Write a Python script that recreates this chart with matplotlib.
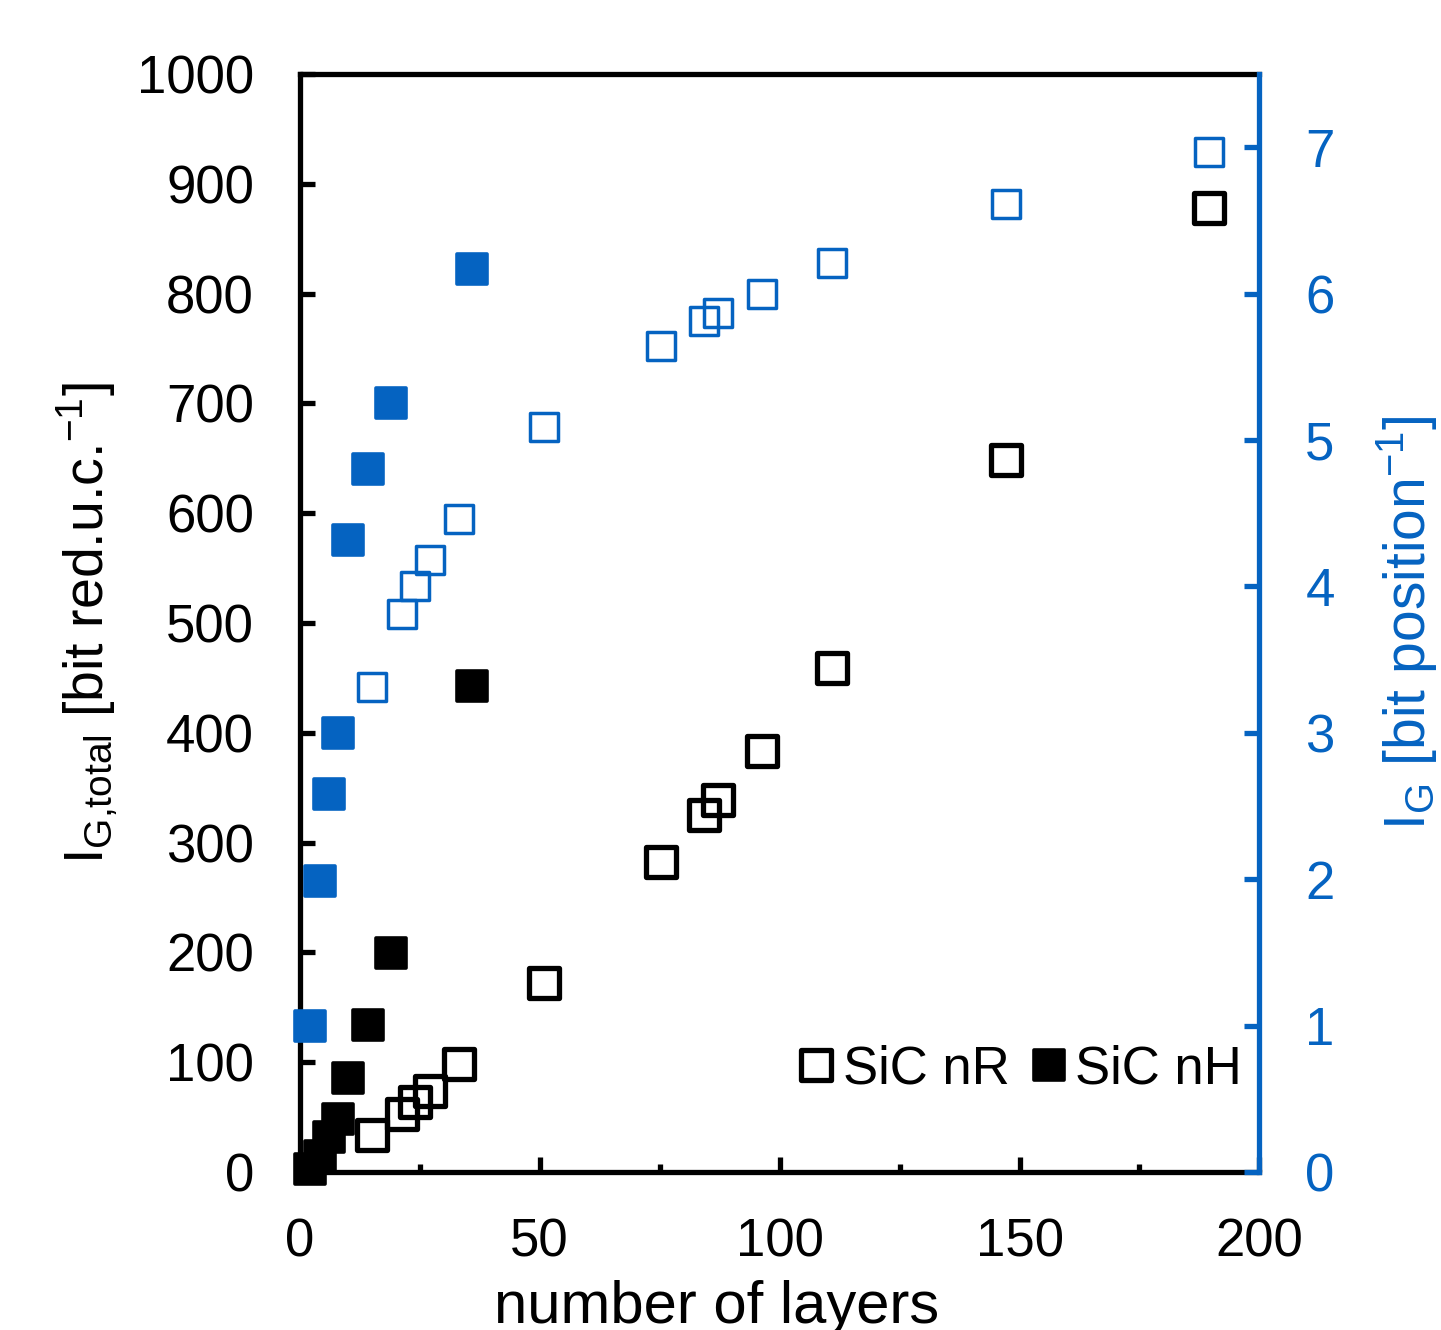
import matplotlib
matplotlib.use('Agg')
import matplotlib.pyplot as plt
from matplotlib.markers import MarkerStyle
from matplotlib.ticker import MultipleLocator

plt.rcParams['font.family'] = ['Liberation Sans', 'DejaVu Sans']
plt.rcParams['mathtext.fontset'] = 'custom'
plt.rcParams['mathtext.rm'] = 'Liberation Sans'
plt.rcParams['mathtext.it'] = 'Liberation Sans'

# SiC nR (open squares)
layers_nR = [15, 21.3, 24.1, 27.2, 33.2, 51, 75.2, 84.2, 87.1, 96.3, 111, 147.1, 189.4]
total_nR = [34, 53, 64, 74, 98, 172, 282, 325, 339, 383, 459, 648, 878]
perpos_nR = [3.31, 3.81, 4.0, 4.18, 4.46, 5.09, 5.64, 5.81, 5.87, 6.0, 6.21, 6.61, 6.97]

# SiC nH (filled squares)
layers_nH = [2.1, 4.2, 6, 7.9, 10, 14.2, 19, 36]
total_nH = [3, 15, 32, 48, 86, 134, 199, 443]
perpos_nH = [1.0, 1.99, 2.58, 3.0, 4.32, 4.8, 5.25, 6.17]

blue = '#0563C1'
fs = 38

fig = plt.figure(figsize=(14.41, 13.3), dpi=100)
ax = fig.add_axes([0.208, 0.1188, 0.666, 0.8256])
ax2 = ax.twinx()

sq = MarkerStyle('s', joinstyle='round')

ax.plot(layers_nR, total_nR, ls='none', marker=sq, ms=21, mew=3.8,
        mfc='none', mec='k', clip_on=False, zorder=3, label='SiC nR')
ax.plot(layers_nH, total_nH, ls='none', marker=sq, ms=21.5, mew=2.6,
        mfc='k', mec='k', clip_on=False, zorder=3, label='SiC nH')

ax2.plot(layers_nR, perpos_nR, ls='none', marker=sq, ms=20.5, mew=2.5,
         mfc='none', mec=blue, clip_on=False, zorder=3)
ax2.plot(layers_nH, perpos_nH, ls='none', marker=sq, ms=21.5, mew=2.6,
         mfc=blue, mec=blue, clip_on=False, zorder=3)

ax.set_xlim(0, 200)
ax.set_ylim(0, 1000)
ax2.set_ylim(0, 7.5)
ax.xaxis.set_major_locator(MultipleLocator(50))
ax.xaxis.set_minor_locator(MultipleLocator(25))
ax.yaxis.set_major_locator(MultipleLocator(100))
ax2.yaxis.set_major_locator(MultipleLocator(1))

lw = 3.8
for s in ['left', 'top', 'bottom']:
    ax.spines[s].set_linewidth(lw)
    ax2.spines[s].set_visible(False)
ax.spines['right'].set_visible(False)
ax2.spines['right'].set_linewidth(lw)
ax2.spines['right'].set_color(blue)

ax.tick_params(axis='both', which='major', direction='in', length=11, width=lw,
               labelsize=fs, pad=33)
ax.tick_params(axis='x', which='minor', direction='in', length=6, width=lw)
ax.tick_params(axis='x', which='both', top=False)
ax2.tick_params(axis='y', which='major', direction='in', length=11, width=lw,
                labelsize=fs, pad=33, color=blue, labelcolor=blue)

ax.set_xlabel('number of layers', fontsize=43)
ax.xaxis.set_label_coords(0.434, -0.098)
ax.set_ylabel(r'I$_{\mathrm{G{,}total}}$ [bit red.u.c.$^{\mathrm{-1}}$]', fontsize=40, labelpad=12)
ax2.set_ylabel(r'I$_{\mathrm{G}}$ [bit position$^{\mathrm{-1}}$]', fontsize=41,
               color=blue, labelpad=28)

ax.legend(loc='center right', bbox_to_anchor=(0.982, 0.093), ncol=2, frameon=False,
          fontsize=fs, handlelength=0.6, handletextpad=0.2, columnspacing=0.45,
          borderpad=0, borderaxespad=0)

fig.savefig('out.png', dpi=100)
